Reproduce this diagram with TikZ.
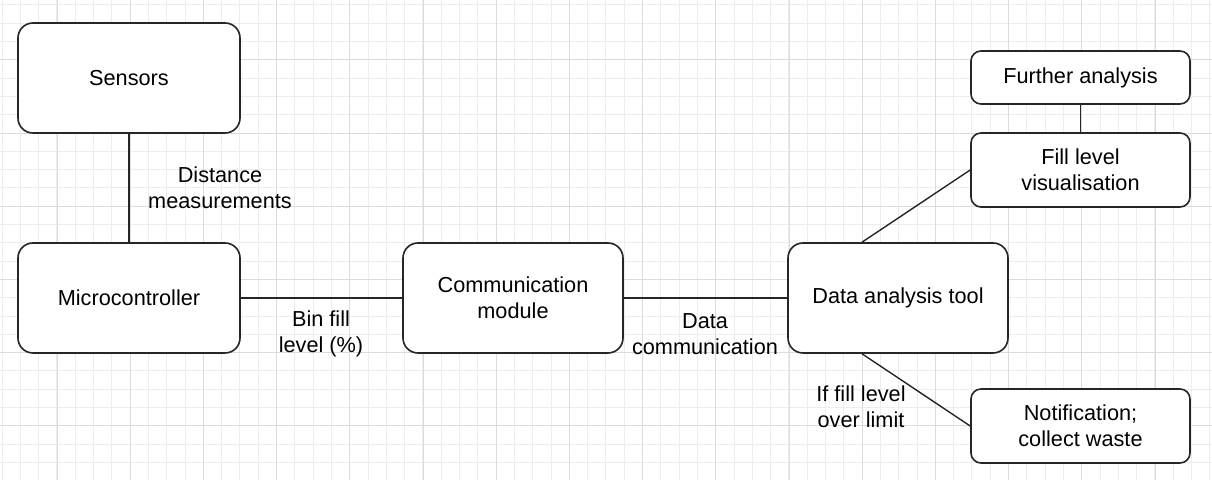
\documentclass[tikz,border=0pt]{standalone}
\usepackage{fontspec}
\setmainfont{Liberation Sans}
\usetikzlibrary{calc}
\begin{document}
\begin{tikzpicture}[x=0.5pt,y=-0.5pt,
  minorgrid/.style={draw=black!7,line width=0.5pt},
  majorgrid/.style={draw=black!14,line width=0.5pt},
  box/.style={draw=black!85,line width=0.8pt,fill=white,rounded corners=7.5pt,
    align=center,inner sep=0pt,font=\fontsize{10.85}{13}\selectfont},
  smallbox/.style={box,rounded corners=5pt},
  conn/.style={draw=black!85,line width=0.7pt},
  lbl/.style={align=center,inner sep=0pt,font=\fontsize{10.85}{13}\selectfont}]
\useasboundingbox (0,0) rectangle (1212,480);
\fill[white] (0,0) rectangle (1212,480);
\begin{scope}
\clip (0,0) rectangle (1212,480);
\foreach \i in {0,...,66} \draw[minorgrid] ({2+18.3*\i},0) -- ({2+18.3*\i},480);
\foreach \i in {0,...,26} \draw[minorgrid] (0,{5+18.3*\i}) -- (1212,{5+18.3*\i});
\foreach \i in {0,...,15} \draw[majorgrid] ({57+73.2*\i},0) -- ({57+73.2*\i},480);
\foreach \i in {0,...,5} \draw[majorgrid] (0,{60+73.2*\i}) -- (1212,{60+73.2*\i});
\end{scope}

\node[box,minimum width=111pt,minimum height=55pt] (sens) at (129,78) {Sensors};
\node[box,minimum width=111pt,minimum height=55pt] (micro) at (129,298) {Microcontroller};
\node[box,minimum width=110pt,minimum height=55pt] (comm) at (513,298) {Communication\\module};
\node[box,minimum width=110pt,minimum height=55pt] (dat) at (898,298) {Data analysis tool};
\node[smallbox,minimum width=109.5pt,minimum height=26.5pt] (further) at (1080.5,77.5) {Further analysis};
\node[smallbox,minimum width=109.5pt,minimum height=37pt] (fill) at (1080.5,170) {Fill level\\visualisation};
\node[smallbox,minimum width=109.5pt,minimum height=37pt] (notif) at (1080.5,426) {Notification;\\collect waste};

\draw[conn] (sens.south) -- (micro.north);
\draw[conn] (micro.east) -- (comm.west);
\draw[conn] (comm.east) -- (dat.west);
\draw[conn] (further.south) -- (fill.north);
\draw[conn] ([xshift=-18pt]dat.north) -- (fill.west);
\draw[conn] ([xshift=-18pt]dat.south) -- (notif.west);

\node[lbl] (l1) at (220,188) {Distance\\measurements};
\node[lbl] (l2) at (321,334) {Bin fill\\level (\%)};
\node[lbl] (l3) at (705,334) {Data\\communication};
\node[lbl] (l4) at (861,407) {If fill level\\over limit};
\end{tikzpicture}
\end{document}
